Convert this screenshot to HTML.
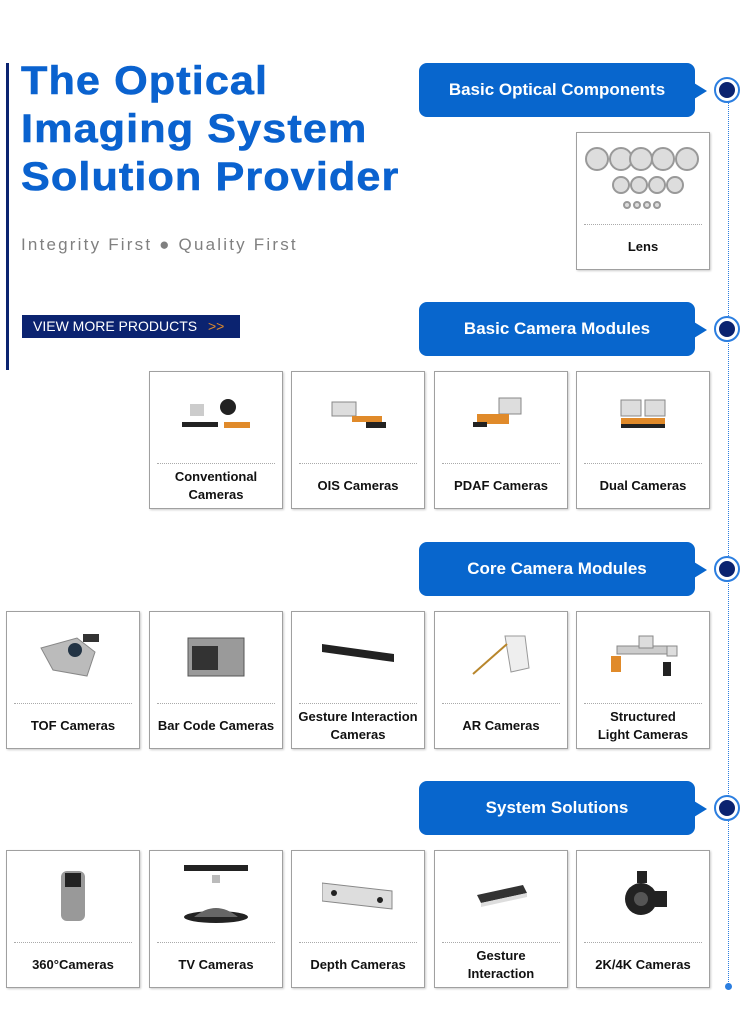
<!DOCTYPE html>
<html><head><meta charset="utf-8"><style>
body{margin:0;width:750px;height:1030px;background:#fff;position:relative;overflow:hidden;font-family:"Liberation Sans",Arial,sans-serif}
.a{position:absolute}
.bar{left:6px;top:63px;width:3px;height:307px;background:#0b2370}
.title{left:21px;top:57px;font-size:40px;font-weight:bold;color:#0a62cf;line-height:48px;letter-spacing:1px;white-space:nowrap;transform:scaleX(1.08);transform-origin:0 0;-webkit-text-stroke:0.6px #0a62cf}
.sub{left:21px;top:235px;font-size:17px;color:#808080;letter-spacing:2.2px}
.btn{left:22px;top:315px;width:218px;height:23px;background:#0b2370;color:#fff;font-size:14px;line-height:23px}
.btn span{position:absolute;left:11px}
.btn b{position:absolute;left:186px;font-weight:normal;color:#e08a2a}
.ban{left:419px;width:276px;height:54px;background:#0866cd;border-radius:8px;color:#fff;font-weight:bold;font-size:17px;text-align:center;line-height:54px}
.ban:after{content:"";position:absolute;right:-12px;top:20px;border-left:13px solid #0866cd;border-top:8px solid transparent;border-bottom:8px solid transparent}
.dot{left:714px;width:26px;height:26px;border-radius:50%;border:2px solid #2b7ee0;box-sizing:border-box;background:#fff}
.dot:after{content:"";position:absolute;left:3px;top:3px;width:16px;height:16px;border-radius:50%;background:#0b2370}
.line{left:728px;top:103px;height:883px;border-left:1px dotted #2b7ee0}
.card{width:132px;height:136px;border:1px solid #a0a0a0;box-shadow:1px 1px 2px #ccc;background:#fff}
.card .sep{position:absolute;left:7px;right:7px;top:91px;border-top:1px dotted #aaa}
.card .t{position:absolute;left:0;right:0;top:92px;height:44px;display:flex;align-items:center;justify-content:center;text-align:center;font-size:13px;font-weight:bold;color:#111;line-height:18px}
.card .im{position:absolute;left:30px;top:20px;width:72px;height:50px}
</style></head><body>
<div class="a bar"></div>
<div class="a title">The Optical<br>Imaging System<br>Solution Provider</div>
<div class="a sub">Integrity First ● Quality First</div>
<div class="a btn"><span>VIEW MORE PRODUCTS</span><b>&gt;&gt;</b></div>
<div class="a line"></div>
<div class="a" style="left:725px;top:983px;width:7px;height:7px;border-radius:50%;background:#2b7ee0"></div>

<div class="a ban" style="top:63px">Basic Optical Components</div><div class="a dot" style="top:77px"></div>
<div class="a ban" style="top:302px">Basic Camera Modules</div><div class="a dot" style="top:316px"></div>
<div class="a ban" style="top:542px">Core Camera Modules</div><div class="a dot" style="top:556px"></div>
<div class="a ban" style="top:781px">System Solutions</div><div class="a dot" style="top:795px"></div>

<div class="a card" style="left:576px;top:132px"><svg class="im" style="left:6px;width:120px;top:12px;height:70px" viewBox="0 0 120 70"><g fill="#ddd" stroke="#999" stroke-width="2"><circle cx="14" cy="14" r="11"/><circle cx="38" cy="14" r="11"/><circle cx="58" cy="14" r="11"/><circle cx="80" cy="14" r="11"/><circle cx="104" cy="14" r="11"/><circle cx="38" cy="40" r="8"/><circle cx="56" cy="40" r="8"/><circle cx="74" cy="40" r="8"/><circle cx="92" cy="40" r="8"/><circle cx="44" cy="60" r="3"/><circle cx="54" cy="60" r="3"/><circle cx="64" cy="60" r="3"/><circle cx="74" cy="60" r="3"/></g></svg><div class="sep"></div><div class="t">Lens</div></div>

<div class="a card" style="left:149px;top:371px"><svg class="im" viewBox="0 0 72 50"><rect x="10" y="12" width="14" height="12" fill="#ccc"/><rect x="2" y="30" width="36" height="5" fill="#222"/><circle cx="48" cy="15" r="8" fill="#222"/><rect x="44" y="30" width="26" height="6" fill="#e08a2a"/></svg><div class="sep"></div><div class="t">Conventional<br>Cameras</div></div>
<div class="a card" style="left:291px;top:371px"><svg class="im" viewBox="0 0 72 50"><rect x="10" y="10" width="24" height="14" fill="#ddd" stroke="#888"/><rect x="30" y="24" width="30" height="6" fill="#e08a2a"/><rect x="44" y="30" width="20" height="6" fill="#222"/></svg><div class="sep"></div><div class="t">OIS Cameras</div></div>
<div class="a card" style="left:434px;top:371px"><svg class="im" viewBox="0 0 72 50"><rect x="34" y="6" width="22" height="16" fill="#ddd" stroke="#888"/><rect x="12" y="22" width="32" height="10" fill="#e08a2a"/><rect x="8" y="30" width="14" height="5" fill="#222"/></svg><div class="sep"></div><div class="t">PDAF Cameras</div></div>
<div class="a card" style="left:576px;top:371px"><svg class="im" viewBox="0 0 72 50"><rect x="14" y="8" width="20" height="16" fill="#ddd" stroke="#888"/><rect x="38" y="8" width="20" height="16" fill="#ddd" stroke="#888"/><rect x="14" y="26" width="44" height="6" fill="#e08a2a"/><rect x="14" y="32" width="44" height="4" fill="#222"/></svg><div class="sep"></div><div class="t">Dual Cameras</div></div>

<div class="a card" style="left:6px;top:611px"><svg class="im" viewBox="0 0 72 50"><polygon points="4,16 40,6 58,20 50,44 16,38" fill="#bbb" stroke="#888"/><circle cx="38" cy="18" r="7" fill="#234"/><rect x="46" y="2" width="16" height="8" fill="#333"/></svg><div class="sep"></div><div class="t">TOF Cameras</div></div>
<div class="a card" style="left:149px;top:611px"><svg class="im" viewBox="0 0 72 50"><rect x="8" y="6" width="56" height="38" fill="#9a9a9a" stroke="#555"/><rect x="12" y="14" width="26" height="24" fill="#333"/></svg><div class="sep"></div><div class="t">Bar Code Cameras</div></div>
<div class="a card" style="left:291px;top:611px"><svg class="im" viewBox="0 0 72 50"><polygon points="0,12 72,22 72,30 0,20" fill="#222"/></svg><div class="sep"></div><div class="t">Gesture Interaction<br>Cameras</div></div>
<div class="a card" style="left:434px;top:611px"><svg class="im" viewBox="0 0 72 50"><polygon points="40,4 60,4 64,36 46,40" fill="#eee" stroke="#999"/><line x1="42" y1="12" x2="8" y2="42" stroke="#b8862c" stroke-width="2"/></svg><div class="sep"></div><div class="t">AR Cameras</div></div>
<div class="a card" style="left:576px;top:611px"><svg class="im" viewBox="0 0 72 50"><rect x="10" y="14" width="56" height="8" fill="#ccc" stroke="#888"/><rect x="32" y="4" width="14" height="12" fill="#ddd" stroke="#888"/><rect x="60" y="14" width="10" height="10" fill="#ddd" stroke="#888"/><rect x="4" y="24" width="10" height="16" fill="#e08a2a"/><rect x="56" y="30" width="8" height="14" fill="#222"/></svg><div class="sep"></div><div class="t">Structured<br>Light Cameras</div></div>

<div class="a card" style="left:6px;top:850px"><svg class="im" viewBox="0 0 72 50"><rect x="24" y="0" width="24" height="50" rx="6" fill="#999"/><rect x="28" y="2" width="16" height="14" fill="#222"/></svg><div class="sep"></div><div class="t">360°Cameras</div></div>
<div class="a card" style="left:149px;top:850px"><svg class="im" viewBox="0 0 72 50" style="top:6px;height:66px"><rect x="4" y="0" width="64" height="6" fill="#222"/><rect x="32" y="10" width="8" height="8" fill="#bbb"/><ellipse cx="36" cy="52" rx="32" ry="6" fill="#222"/><path d="M14 52 Q36 34 58 52" fill="#666"/></svg><div class="sep"></div><div class="t">TV Cameras</div></div>
<div class="a card" style="left:291px;top:850px"><svg class="im" viewBox="0 0 72 50"><polygon points="0,12 70,20 70,38 0,30" fill="#ddd" stroke="#888"/><circle cx="12" cy="22" r="3" fill="#222"/><circle cx="58" cy="29" r="3" fill="#222"/></svg><div class="sep"></div><div class="t">Depth Cameras</div></div>
<div class="a card" style="left:434px;top:850px"><svg class="im" viewBox="0 0 72 50"><polygon points="12,24 58,14 62,22 16,32" fill="#333"/><polygon points="16,32 62,22 62,26 16,36" fill="#ddd"/></svg><div class="sep"></div><div class="t">Gesture<br>Interaction</div></div>
<div class="a card" style="left:576px;top:850px"><svg class="im" viewBox="0 0 72 50"><rect x="30" y="0" width="10" height="12" fill="#222"/><circle cx="34" cy="28" r="16" fill="#222"/><circle cx="34" cy="28" r="7" fill="#555"/><rect x="48" y="20" width="12" height="16" fill="#222"/></svg><div class="sep"></div><div class="t">2K/4K Cameras</div></div>
</body></html>
